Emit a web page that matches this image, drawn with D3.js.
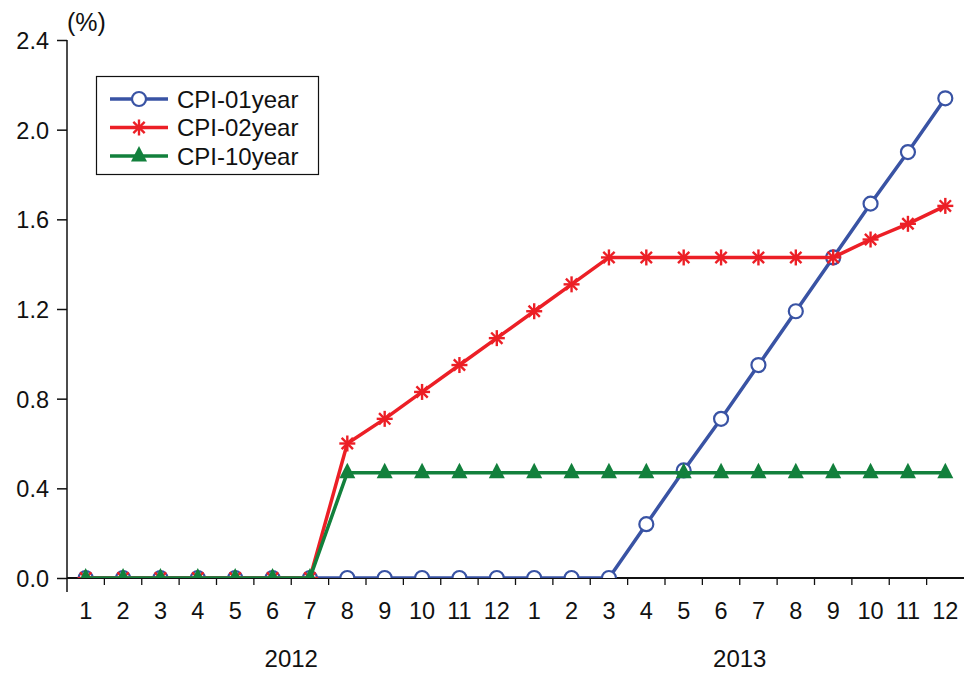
<!DOCTYPE html>
<html>
<head>
<meta charset="utf-8">
<script src="https://cdn.jsdelivr.net/npm/d3@7"></script>
<style>
body { margin: 0; background: #fff; }
text { font-family: "Liberation Sans", Arial, sans-serif; fill: #111; }
</style>
</head>
<body>
<svg width="964" height="675"></svg>
<script>
// categories: 24 months, 2012-01 .. 2013-12
var monthLabels = ["1","2","3","4","5","6","7","8","9","10","11","12",
                   "1","2","3","4","5","6","7","8","9","10","11","12"];
var years = ["2012", "2013"];
var yTicks = [0, 0.4, 0.8, 1.2, 1.6, 2.0, 2.4];

// series values (%)
var cpi01 = [0,0,0,0,0,0,0,0,0,0,0,0, 0,0,0,0.24,0.48,0.71,0.95,1.19,1.43,1.67,1.90,2.14];
var cpi02 = [0,0,0,0,0,0,0,0.60,0.71,0.83,0.95,1.07, 1.19,1.31,1.43,1.43,1.43,1.43,1.43,1.43,1.43,1.51,1.58,1.66];
var cpi10 = [0,0,0,0,0,0,0,0.47,0.47,0.47,0.47,0.47, 0.47,0.47,0.47,0.47,0.47,0.47,0.47,0.47,0.47,0.47,0.47,0.47];

var series = [
	{name: "CPI-01year", values: cpi01, color: "#3953a4", marker: "circle"},
	{name: "CPI-02year", values: cpi02, color: "#ec1f26", marker: "star"},
	{name: "CPI-10year", values: cpi10, color: "#12803c", marker: "triangle"}
];

var svg = d3.select("svg");
var mLeft = 67, mRight = 964, mTop = 40, mBottom = 578;

var idx = d3.range(monthLabels.length);
var xScale = d3.scaleBand().domain(idx).range([mLeft, mRight]).padding(0);
var yScale = d3.scaleLinear().domain([0, 2.4]).range([mBottom, mTop]);
var bw = xScale.bandwidth();
var cx = function(i) {return xScale(i) + bw / 2};

// clip for markers at the x axis
svg.append("clipPath").attr("id", "plot")
	.append("rect").attr("x", mLeft).attr("y", 0)
	.attr("width", mRight - mLeft).attr("height", mBottom);

// y axis
var yAxis = svg.append("g").attr("transform", "translate(" + mLeft + ",0)")
	.call(d3.axisLeft(yScale).tickValues(yTicks).tickFormat(d3.format(".1f")).tickSize(10).tickPadding(8));
yAxis.select(".domain").remove();
yAxis.attr("font-family", null).attr("font-size", null);
yAxis.selectAll(".tick line").attr("stroke", "#111").attr("stroke-width", 1.5);
yAxis.selectAll(".tick text").style("font-size", "23.5px").attr("dy", "0.36em");
svg.append("line").attr("x1", mLeft).attr("x2", mLeft).attr("y1", mTop).attr("y2", mBottom + 14)
	.attr("stroke", "#111").attr("stroke-width", 1.5);

// x axis
svg.append("line").attr("x1", mLeft).attr("x2", mRight).attr("y1", mBottom).attr("y2", mBottom)
	.attr("stroke", "#111").attr("stroke-width", 2);
svg.append("g").selectAll("line").data(idx.slice(1)).enter().append("line")
	.attr("x1", function(i) {return xScale(i)}).attr("x2", function(i) {return xScale(i)})
	.attr("y1", mBottom).attr("y2", mBottom + 7)
	.attr("stroke", "#111").attr("stroke-width", 1.3);
svg.append("g").selectAll("text").data(idx).enter().append("text")
	.attr("x", cx).attr("y", 619).attr("text-anchor", "middle")
	.style("font-size", "23.5px").text(function(i) {return monthLabels[i]});
svg.append("g").selectAll("text").data(years).enter().append("text")
	.attr("x", function(d, k) {return (cx(k * 12) + cx(k * 12 + 11)) / 2})
	.attr("y", 667).attr("text-anchor", "middle")
	.style("font-size", "24px").text(function(d) {return d});

svg.append("text").attr("x", 67).attr("y", 31).style("font-size", "25px").text("(%)");

// marker drawing
function drawMarker(g, type, color) {
	if (type == "circle") {
		g.append("circle").attr("r", 7).attr("fill", "#fff")
			.attr("stroke", color).attr("stroke-width", 2.2);
	} else if (type == "star") {
		[0, 45, 90, 135].forEach(function(a) {
			g.append("line").attr("x1", -8).attr("x2", 8).attr("y1", 0).attr("y2", 0)
				.attr("transform", "rotate(" + a + ")")
				.attr("stroke", color).attr("stroke-width", 2.4);
		});
	} else {
		g.append("path").attr("d", "M0,-10L8,5.5L-8,5.5Z").attr("fill", color);
	}
}

var line = d3.line().x(function(d, i) {return cx(i)}).y(function(d) {return yScale(d)});
var plot = svg.append("g").attr("clip-path", "url(#plot)");

series.forEach(function(s) {
	var g = plot.append("g");
	g.append("path").datum(s.values).attr("d", line)
		.attr("fill", "none").attr("stroke", s.color).attr("stroke-width", 3.5)
		.attr("stroke-linejoin", "round");
	g.selectAll("g").data(s.values).enter().append("g")
		.attr("transform", function(d, i) {return "translate(" + cx(i) + "," + yScale(d) + ")"})
		.each(function() {drawMarker(d3.select(this), s.marker, s.color)});
});

// legend
var lg = svg.append("g");
lg.append("rect").attr("x", 96.5).attr("y", 76.5).attr("width", 222).attr("height", 98)
	.attr("fill", "#fff").attr("stroke", "#111").attr("stroke-width", 1.2);
series.forEach(function(s, k) {
	var y = 99 + k * 28.5;
	lg.append("line").attr("x1", 110).attr("x2", 168).attr("y1", y).attr("y2", y)
		.attr("stroke", s.color).attr("stroke-width", 3.5);
	drawMarker(lg.append("g").attr("transform", "translate(139," + y + ")"), s.marker, s.color);
	lg.append("text").attr("x", 177).attr("y", y).attr("dy", "0.36em")
		.style("font-size", "24px").text(s.name);
});
</script>
</body>
</html>
